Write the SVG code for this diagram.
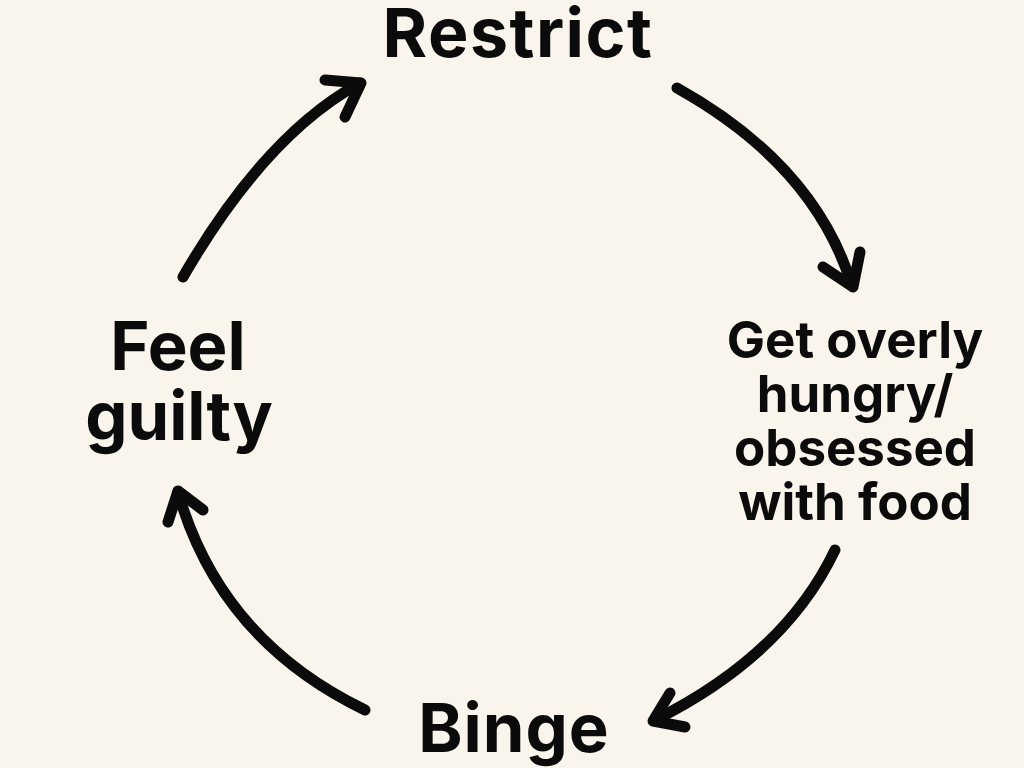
<svg xmlns="http://www.w3.org/2000/svg" width="1024" height="768" viewBox="0 0 1024 768">
<style>
.lbl{font-family:Inter,"Liberation Sans",Arial,sans-serif;font-weight:bold;fill:#0b0b0b;text-anchor:middle}
.big{font-size:67px}
.mid{font-size:51px}
.arr{fill:none;stroke:#0b0b0b;stroke-width:11;stroke-linecap:round;stroke-linejoin:round}
</style>
<rect width="1024" height="768" fill="#faf5ec"/>
<g id="connectors">
<path class="arr" d="M183,277 Q265,135 360,83"/>
<path class="arr" d="M325,80 L361,83 L345,117"/>
<path class="arr" d="M677,88 Q815,165 852,286"/>
<path class="arr" d="M823,267 L853,287 L860,252"/>
<path class="arr" d="M835,550 Q785,655 655,720"/>
<path class="arr" d="M670,693 L653,721 L685,727"/>
<path class="arr" d="M365,710 Q220,640 178,492"/>
<path class="arr" d="M168,522 L178,491 L203,510"/>
</g>
<g id="restrict"><text class="lbl" x="518" y="57" font-size="68" letter-spacing="1.5">Restrict</text></g>
<g id="hungry"><text class="lbl mid" x="855" y="358">Get overly</text><text class="lbl mid" x="855" y="412">hungry/</text><text class="lbl mid" x="855" y="466">obsessed</text><text class="lbl mid" x="855" y="520">with food</text></g>
<g id="binge"><text class="lbl big" x="514" y="752" letter-spacing="1">Binge</text></g>
<g id="guilty"><text class="lbl big" x="178" y="370">Feel</text><text class="lbl big" x="179" y="440">guilty</text></g>
</svg>
